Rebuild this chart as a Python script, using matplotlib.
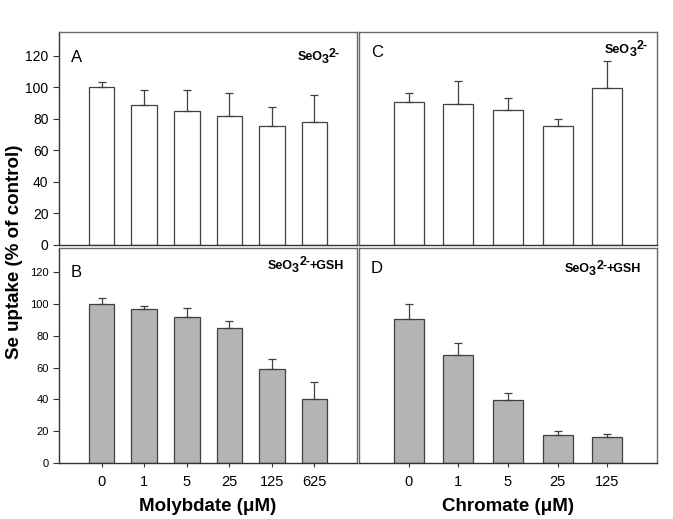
import numpy as np
import matplotlib
matplotlib.use("Agg")
import matplotlib.pyplot as plt

plt.rcParams['font.family'] = ['Liberation Sans', 'DejaVu Sans']

# ======================================
# DATOS
# ======================================
moly_labels = ['0', '1', '5', '25', '125', '625']
chrom_labels = ['0', '1', '5', '25', '125']

# Panel A: SeO3 2- , molibdato
a_mean = [100, 88.5, 85.3, 82.0, 75.3, 77.8]
a_err = [3.7, 9.7, 12.9, 14.7, 12.4, 17.3]
# Panel B: SeO3 2- + GSH, molibdato
b_mean = [100, 96.8, 91.8, 84.8, 59.2, 40.4]
b_err = [3.7, 1.9, 5.9, 4.7, 6.3, 10.8]
# Panel C: SeO3 2- , cromato
c_mean = [90.5, 89.5, 85.7, 75.6, 99.6]
c_err = [5.9, 14.8, 7.6, 4.4, 16.9]
# Panel D: SeO3 2- + GSH, cromato
d_mean = [90.2, 67.8, 39.4, 17.9, 16.6]
d_err = [9.7, 7.6, 4.4, 1.9, 1.9]

fig = plt.figure(figsize=(6.73, 5.19), dpi=100)

W = 0.4428
axA = fig.add_axes([0.0877, 0.528, W, 0.410])
axC = fig.add_axes([0.5334, 0.528, W, 0.410])
axB = fig.add_axes([0.0877, 0.1079, W, 0.414])
axD = fig.add_axes([0.5334, 0.1079, W, 0.414])

frame_col = '#6a6a6a'
edge_col = '#404040'
TAG_FS = 9


def tag(ax, x0, y0, gsh):
    # SeO3(2-) escrito a trozos para que sub/superindice queden grandes
    t1 = ax.text(x0, y0, 'SeO', transform=ax.transAxes, fontsize=TAG_FS,
                 fontweight='bold', ha='left', va='bottom')
    t2 = ax.annotate('3', xy=(1, 0), xycoords=(t1, t1), xytext=(-0.3, -2.4),
                     textcoords='offset points', fontsize=TAG_FS,
                     fontweight='bold', ha='left', va='bottom')
    t3 = ax.annotate('2-', xy=(1, 0), xycoords=(t2, t1), xytext=(0.0, 2.4),
                     textcoords='offset points', fontsize=TAG_FS,
                     fontweight='bold', ha='left', va='bottom')
    if gsh:
        ax.annotate('+GSH', xy=(1, 0), xycoords=(t3, t1), xytext=(-0.3, 0),
                    textcoords='offset points', fontsize=TAG_FS,
                    fontweight='bold', ha='left', va='bottom')


def panel(ax, mean, err, labels, fill, letter, letter_y, tag_xy, gsh,
          yticks, xticks, tick_fs):
    x = np.arange(len(mean))
    ax.bar(x, mean, width=0.6, color=fill, edgecolor=edge_col, linewidth=0.9, zorder=2)
    ax.errorbar(x, mean, yerr=[np.zeros(len(err)), err], fmt='none',
                ecolor=edge_col, elinewidth=0.9, capsize=3, capthick=0.9, zorder=3)
    ax.set_xlim(-1, len(mean))
    ax.set_ylim(0, 135)
    for s in ax.spines.values():
        s.set_color(frame_col)
        s.set_linewidth(1.0)
    ax.spines['bottom'].set_color('#333333')
    if yticks:
        ax.set_yticks(np.arange(0, 121, 20))
        ax.tick_params(axis='y', direction='out', length=4, width=0.8,
                       colors='#333333', labelsize=tick_fs, labelcolor='black')
        ax.spines['left'].set_color('#333333')
    else:
        ax.set_yticks([])
    if xticks:
        ax.set_xticks(x)
        ax.set_xticklabels(labels)
        ax.tick_params(axis='x', direction='out', length=3, width=0.8,
                       colors='#333333', labelsize=10.5, labelcolor='black', pad=6)
    else:
        ax.set_xticks([])
    ax.text(0.04, letter_y, letter, transform=ax.transAxes, fontsize=12,
            ha='left', va='top')
    tag(ax, tag_xy[0], tag_xy[1], gsh)


panel(axA, a_mean, a_err, moly_labels, 'white', 'A', 0.915, (0.80, 0.855), False, True, False, 10)
panel(axB, b_mean, b_err, moly_labels, '#b4b4b4', 'B', 0.92, (0.70, 0.89), True, True, True, 8)
panel(axC, c_mean, c_err, chrom_labels, 'white', 'C', 0.94, (0.825, 0.89), False, False, False, 10)
panel(axD, d_mean, d_err, chrom_labels, '#b4b4b4', 'D', 0.94, (0.69, 0.875), True, False, True, 8)

axB.set_xlabel('Molybdate (μM)', fontsize=13.5, fontweight='bold', labelpad=6)
axD.set_xlabel('Chromate (μM)', fontsize=13.5, fontweight='bold', labelpad=6)
fig.text(0.022, 0.515, 'Se uptake (% of control)', rotation=90, fontsize=13.5,
         fontweight='bold', ha='center', va='center')

plt.savefig('out.png', dpi=100)
